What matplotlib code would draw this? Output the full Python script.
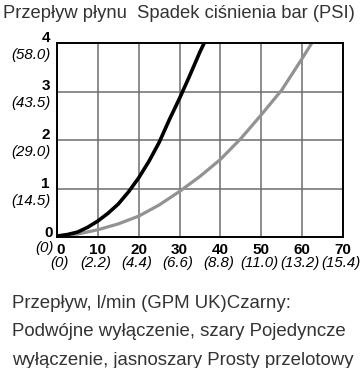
import matplotlib
matplotlib.use("Agg")
import matplotlib.pyplot as plt

plt.rcParams['font.family'] = ['Liberation Sans', 'DejaVu Sans']

# dane (przeplyw l/min, spadek cisnienia bar)
przeplyw_czarny = [0, 2.5, 5, 7.5, 10, 12.5, 15, 17.5, 20, 22.5, 25, 27.5, 30, 32.5, 35, 36.2]
spadek_czarny = [0.02, 0.05, 0.10, 0.20, 0.33, 0.49, 0.68, 0.93, 1.22, 1.56, 1.95, 2.42, 2.86, 3.33, 3.82, 4.03]
przeplyw_szary = [0, 5, 10, 15, 20, 25, 30, 35, 40, 45, 50, 55, 60, 62.6]
spadek_szary = [0.02, 0.06, 0.15, 0.27, 0.43, 0.66, 0.94, 1.25, 1.60, 2.03, 2.52, 3.03, 3.68, 4.03]

x_ticks = [0, 10, 20, 30, 40, 50, 60, 70]
x_gpm = ['(0)', '(2.2)', '(4.4)', '(6.6)', '(8.8)', '(11.0)', '(13.2)', '(15.4)']
y_ticks = [1, 2, 3, 4]
y_psi = ['(14.5)', '(29.0)', '(43.5)', '(58.0)']

W, H = 361, 368
fig = plt.figure(figsize=(W / 100, H / 100), dpi=100)
ax = fig.add_axes([57 / W, 1 - 237 / H, (343 - 57) / W, (237 - 43) / H])

ax.plot(przeplyw_szary, spadek_szary, color='#929292', lw=2.3, solid_joinstyle='round')
ax.plot(przeplyw_czarny, spadek_czarny, color='black', lw=2.6, solid_joinstyle='round')

ax.set_xlim(0, 70)
ax.set_ylim(0, 4)
ax.set_xticks(x_ticks)
ax.set_yticks([0] + y_ticks)
ax.grid(True, color='#6e6e6e', lw=1.1)
ax.set_axisbelow(True)
ax.tick_params(length=0, labelbottom=False, labelleft=False)
for s in ax.spines.values():
    s.set_linewidth(1.4)
    s.set_color('black')

# podpisy osi y: liczba pogrubiona nad linia, PSI kursywa pod linia
for v, p in zip(y_ticks, y_psi):
    ax.annotate(str(v), xy=(0, v), xycoords=('axes fraction', 'data'), xytext=(-7, 5),
                textcoords='offset pixels', ha='right', va='center', fontsize=11, fontweight='bold')
    ax.annotate(p, xy=(0, v), xycoords=('axes fraction', 'data'), xytext=(-6, -12),
                textcoords='offset pixels', ha='right', va='center', fontsize=10.8, style='italic')
ax.annotate('0', xy=(0, 0), xycoords=('axes fraction', 'data'), xytext=(-4, 4),
            textcoords='offset pixels', ha='right', va='center', fontsize=11, fontweight='bold')
ax.annotate('(0)', xy=(0, 0), xycoords=('axes fraction', 'data'), xytext=(-3, -11),
            textcoords='offset pixels', ha='right', va='center', fontsize=10.8, style='italic')

# podpisy osi x
for v, g in zip(x_ticks, x_gpm):
    dx = 4 if v == 0 else 0
    ax.annotate(str(v), xy=(v, 0), xycoords=('data', 'axes fraction'), xytext=(dx, -13),
                textcoords='offset pixels', ha='center', va='center', fontsize=11, fontweight='bold')
    ax.annotate(g, xy=(v, 0), xycoords=('data', 'axes fraction'), xytext=(dx - 2, -26),
                textcoords='offset pixels', ha='center', va='center', fontsize=10.8, style='italic')

fig.text(3 / W, 1 - 18.5 / H, 'Przepływ płynu  Spadek ciśnienia bar (PSI)', fontsize=13.2,
         color='#333333', ha='left', va='baseline')

opis = ['Przepływ, l/min (GPM UK)Czarny:',
        'Podwójne wyłączenie, szary Pojedyncze',
        'wyłączenie, jasnoszary Prosty przelotowy']
for i, linia in enumerate(opis):
    fig.text(12 / W, 1 - (308 + 28.5 * i) / H, linia, fontsize=13.4, color='#333333',
             ha='left', va='baseline')

fig.savefig('out.png', dpi=100)
